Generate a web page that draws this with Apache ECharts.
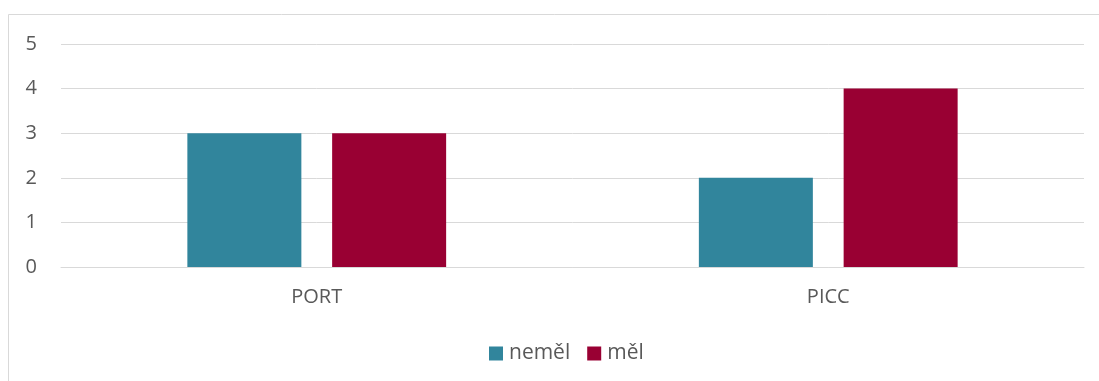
<!DOCTYPE html>
<html>
<head>
<meta charset="utf-8">
<script src="https://cdn.jsdelivr.net/npm/echarts@6/dist/echarts.min.js"></script>
<style>
  html, body { margin: 0; padding: 0; background: #fff; }
  #chart { width: 1099px; height: 381px; }
</style>
</head>
<body>
<div id="chart"></div>
<script>
// Categories and series values
const categories = ['PORT', 'PICC'];
const nemel = [3, 2];
const mel = [3, 4];
const seriesNames = ['neměl', 'měl'];

const textColor = '#595959';
const gridColor = '#d9d9d9';
const fontFamily = '"Open Sans", "Noto Sans", sans-serif';

const chart = echarts.init(document.getElementById('chart'), null, { renderer: 'canvas' });
chart.setOption({
  animation: false,
  backgroundColor: '#ffffff',
  textStyle: { fontFamily: fontFamily },
  graphic: [{
    type: 'rect',
    shape: { x: 8.5, y: 14.5, width: 1200, height: 500 },
    style: { fill: 'none', stroke: gridColor, lineWidth: 1 },
    silent: true,
    z: -1
  }],
  grid: { left: 61, right: 15, top: 44, bottom: 114, containLabel: false },
  legend: {
    data: seriesNames,
    top: 338,
    left: 484,
    itemWidth: 14,
    itemHeight: 14,
    itemGap: 17,
    icon: 'rect',
    textStyle: { color: textColor, fontSize: 21, fontFamily: fontFamily, padding: [0, 0, 0, 1] }
  },
  xAxis: {
    type: 'category',
    data: categories,
    axisLine: { show: true, lineStyle: { color: gridColor, width: 1 } },
    axisTick: { show: false },
    axisLabel: { color: textColor, fontSize: 20, margin: 20, fontFamily: fontFamily }
  },
  yAxis: {
    type: 'value',
    min: 0,
    max: 5,
    interval: 1,
    axisLine: { show: false },
    axisTick: { show: false },
    splitLine: { lineStyle: { color: gridColor, width: 1 } },
    axisLabel: { color: textColor, fontSize: 20, margin: 24, fontFamily: fontFamily }
  },
  series: [
    {
      name: seriesNames[0],
      type: 'bar',
      data: nemel,
      barWidth: 114,
      barGap: '27%',
      itemStyle: { color: '#31859C' }
    },
    {
      name: seriesNames[1],
      type: 'bar',
      data: mel,
      barWidth: 114,
      barGap: '27%',
      itemStyle: { color: '#990033' }
    }
  ]
});
</script>
</body>
</html>
